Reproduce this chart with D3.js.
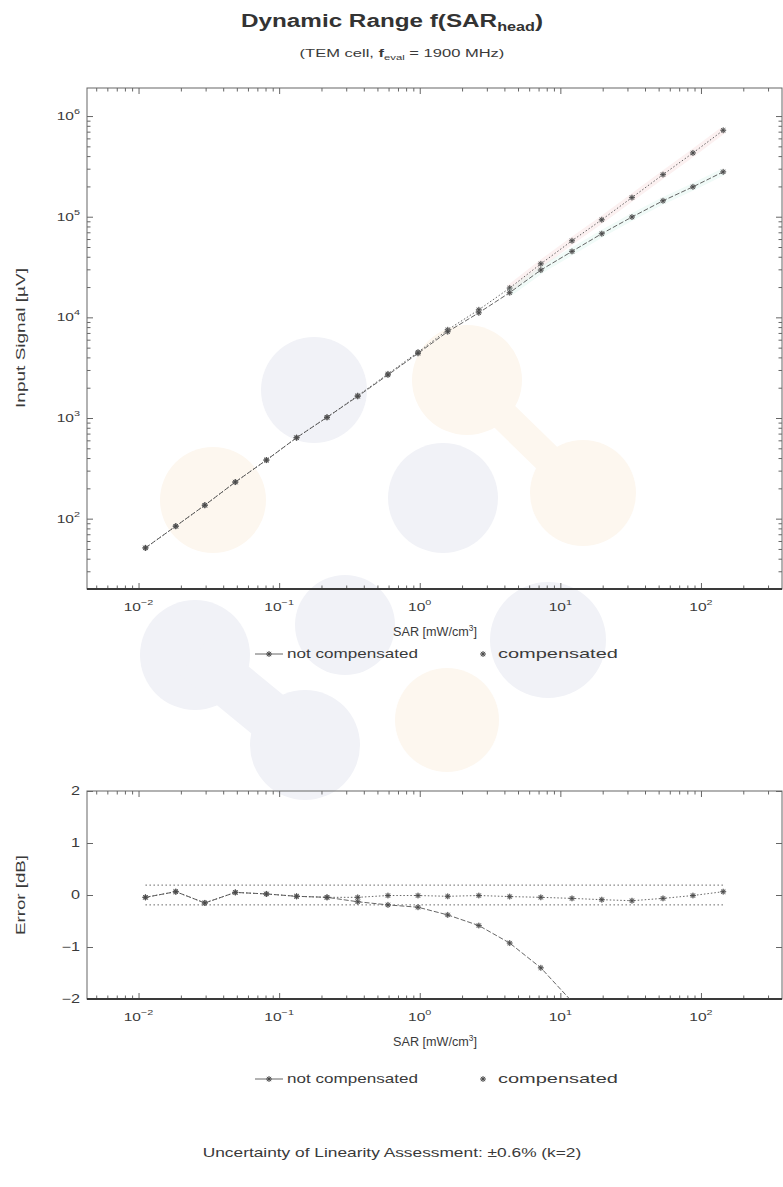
<!DOCTYPE html>
<html>
<head>
<meta charset="utf-8">
<script src="https://cdn.jsdelivr.net/npm/d3@7"></script>
<style>
  html, body { margin: 0; padding: 0; background: #fff; }
  svg { display: block; font-family: "Liberation Sans", Arial, sans-serif; }
  text { fill: #3a3a3a; }
</style>
</head>
<body>
<div id="chart"></div>
<script>
// SAR steps [mW/cm3]
const sarValues = [0.0112, 0.0184, 0.0296, 0.0488, 0.0812, 0.133, 0.219, 0.362, 0.594, 0.972,
                   1.58, 2.63, 4.36, 7.26, 12.1, 19.7, 32.3, 53.7, 87.7, 144];
// input signal [uV]
const signalNotCompensated = [51.2, 84.2, 136, 231, 382, 637, 1016, 1640, 2680, 4390,
                              7200, 11100, 17600, 29500, 45200, 67800, 99300, 144000, 198000, 279000];
const signalCompensated = [51.2, 84.2, 136, 231, 382, 637, 1016, 1667, 2742, 4510,
                           7520, 11890, 19540, 34000, 57700, 93300, 155000, 262000, 430000, 722000];
// linearity error [dB]
const errorNotCompensated = [-0.045, 0.064, -0.153, 0.05, 0.02, -0.025, -0.045, -0.13, -0.19, -0.235,
                             -0.383, -0.587, -0.924, -1.40, -2.05, -2.77, -3.87, -5.2, -6.74, -8.26];
const errorCompensated = [-0.045, 0.064, -0.153, 0.05, 0.02, -0.025, -0.045, -0.045, -0.01, -0.01,
                          -0.025, -0.01, -0.03, -0.045, -0.065, -0.09, -0.11, -0.065, -0.01, 0.064];
const toleranceBand = [-0.19, 0.19];
const xTickExponents = [-2, -1, 0, 1, 2];
const yTickExponents = [2, 3, 4, 5, 6];
const errorTicks = [-2, -1, 0, 1, 2];
const legendLabels = ['not compensated', 'compensated'];

const W = 783, H = 1187;
const frame = {left: 87, right: 782};
const topBox = {top: 88, bottom: 589};
const errBox = {top: 791, bottom: 999};

const svg = d3.select('#chart').append('svg').attr('width', W).attr('height', H);

// faint watermark of the certificate paper
const wm = svg.append('g').attr('class', 'watermark');
const wmBlue = '#f1f2f7', wmCream = '#fdf7ef';
[[314, 390, 53], [443, 498, 55], [345, 625, 50], [195, 655, 55], [305, 745, 55], [548, 640, 58]]
    .forEach(c => wm.append('circle').attr('cx', c[0]).attr('cy', c[1]).attr('r', c[2]).attr('fill', wmBlue));
wm.append('line').attr('x1', 195).attr('y1', 655).attr('x2', 305).attr('y2', 745)
    .attr('stroke', wmBlue).attr('stroke-width', 50);
[[213, 500, 53], [467, 380, 55], [583, 493, 53], [447, 720, 52]]
    .forEach(c => wm.append('circle').attr('cx', c[0]).attr('cy', c[1]).attr('r', c[2]).attr('fill', wmCream));
wm.append('line').attr('x1', 467).attr('y1', 380).attr('x2', 583).attr('y2', 493)
    .attr('stroke', wmCream).attr('stroke-width', 30);

const x = d3.scaleLog().domain([0.0043, 377]).range([frame.left, frame.right]);
const yTop = d3.scaleLog().domain([20, 1.9e6]).range([topBox.bottom, topBox.top]);
const yErr = d3.scaleLinear().domain([-2, 2]).range([errBox.bottom, errBox.top]);

const minorLog = scale => {
    const [a, b] = scale.domain();
    const out = [];
    for (let e = Math.floor(Math.log10(a)); e <= Math.ceil(Math.log10(b)); e++) {
        for (let k = 2; k <= 9; k++) {
            const v = k * Math.pow(10, e);
            if (v > a && v < b) out.push(v);
        }
    }
    return out;
};

// stretch a text horizontally (along its own baseline) to a given width
const stretch = (t, px, py, width, rot) => {
    const w = t.node().getBBox().width;
    const sx = width ? width / w : 1.35;
    t.attr('transform', `translate(${px},${py})${rot ? ' rotate(-90)' : ''} scale(${sx},1) translate(${-px},${-py})`);
    return t;
};

const powerLabel = (g, px, py, exp, anchor) => {
    const t = g.append('text').attr('x', px).attr('y', py)
        .attr('text-anchor', anchor).style('font-size', '11.5px');
    t.append('tspan').text('10');
    t.append('tspan').attr('dy', -6).style('font-size', '8px').text(exp < 0 ? '\u2212' + (-exp) : exp);
    return stretch(t, px, py, null);
};

const asterisk = r => {
    const d = r * Math.SQRT1_2;
    return `M${-r},0L${r},0M0,${-r}L0,${r}M${-d},${-d}L${d},${d}M${-d},${d}L${d},${-d}`;
};

const marker = (g, px, py) => {
    g.append('circle').attr('cx', px).attr('cy', py).attr('r', 2.6).attr('fill', '#8c8c8c').attr('opacity', 0.6);
    g.append('path').attr('transform', `translate(${px},${py})`).attr('d', asterisk(3))
        .attr('stroke', '#444').attr('stroke-width', 0.8).attr('fill', 'none');
};

const drawAxes = (box, yScale, yMajor, yMinor) => {
    const g = svg.append('g').attr('class', 'axes');
    const xMajor = xTickExponents.map(e => Math.pow(10, e));
    const xMinor = minorLog(x);
    const tick = (axis, tx, ty, values, size) => {
        g.append('g').attr('transform', `translate(${tx},${ty})`)
            .call(axis.tickValues(values).tickSize(size).tickFormat(''))
            .call(s => s.select('.domain').remove())
            .call(s => s.selectAll('line').attr('stroke', '#666'));
    };
    tick(d3.axisBottom(x), 0, box.bottom, xMajor, -6);
    tick(d3.axisBottom(x), 0, box.bottom, xMinor, -3.5);
    tick(d3.axisTop(x), 0, box.top, xMajor, -6);
    tick(d3.axisTop(x), 0, box.top, xMinor, -3.5);
    tick(d3.axisLeft(yScale), frame.left, 0, yMajor, -6);
    tick(d3.axisRight(yScale), frame.right, 0, yMajor, -6);
    if (yMinor.length) {
        tick(d3.axisLeft(yScale), frame.left, 0, yMinor, -3.5);
        tick(d3.axisRight(yScale), frame.right, 0, yMinor, -3.5);
    }
    g.append('rect').attr('x', frame.left).attr('y', box.top)
        .attr('width', frame.right - frame.left).attr('height', box.bottom - box.top)
        .attr('fill', 'none').attr('stroke', '#666').attr('stroke-width', 1);
    g.append('line').attr('x1', frame.left).attr('x2', frame.right)
        .attr('y1', box.bottom).attr('y2', box.bottom).attr('stroke', '#3a3a3a').attr('stroke-width', 2);
    xTickExponents.forEach(e => powerLabel(g, x(Math.pow(10, e)), box.bottom + 22, e, 'middle'));
    return g;
};

const drawSeries = (g, yScale, values, dash, tint) => {
    const pts = sarValues.map((s, i) => ({sar: s, value: values[i]}));
    const line = d3.line().x(d => x(d.sar)).y(d => yScale(d.value));
    if (tint) {
        g.append('path').attr('d', line(pts.slice(12))).attr('fill', 'none')
            .attr('stroke', tint).attr('stroke-width', 7).attr('opacity', 0.25);
    }
    g.append('path').attr('d', line(pts)).attr('fill', 'none')
        .attr('stroke', '#555').attr('stroke-width', 0.9).attr('stroke-dasharray', dash);
    pts.forEach(d => marker(g, x(d.sar), yScale(d.value)));
};

const drawLegend = y => {
    const g = svg.append('g').attr('class', 'legend');
    g.append('line').attr('x1', 255).attr('x2', 283).attr('y1', y).attr('y2', y)
        .attr('stroke', '#555').attr('stroke-width', 0.9);
    marker(g, 269, y);
    stretch(g.append('text').attr('x', 287).attr('y', y + 4).style('font-size', '12px')
        .text(legendLabels[0]), 287, y + 4, 131);
    marker(g, 483, y);
    stretch(g.append('text').attr('x', 498).attr('y', y + 4).style('font-size', '12px')
        .text(legendLabels[1]), 498, y + 4, 120);
};

const sarLabel = y => {
    const t = svg.append('text').attr('x', 435).attr('y', y).attr('text-anchor', 'middle').style('font-size', '13px');
    t.append('tspan').text('SAR [mW/cm');
    t.append('tspan').attr('dy', -5).style('font-size', '8.5px').text('3');
    t.append('tspan').attr('dy', 5).text(']');
    stretch(t, 435, y, 84);
};

// title
const title = svg.append('text').attr('x', 392).attr('y', 27).attr('text-anchor', 'middle')
    .style('font-size', '18px').style('font-weight', 'bold').style('fill', '#333');
title.append('tspan').text('Dynamic Range f(SAR');
title.append('tspan').attr('dy', 4).style('font-size', '12px').text('head');
title.append('tspan').attr('dy', -4).text(')');
stretch(title, 392, 27, 302);

const sub = svg.append('text').attr('x', 402).attr('y', 57).attr('text-anchor', 'middle').style('font-size', '11px');
sub.append('tspan').text('(TEM cell, ');
sub.append('tspan').style('font-weight', 'bold').text('f');
sub.append('tspan').attr('dy', 3).style('font-size', '7.5px').text('eval');
sub.append('tspan').attr('dy', -3).text(' = 1900 MHz)');
stretch(sub, 402, 57, 205);

// upper plot: input signal
const gTop = drawAxes(topBox, yTop, yTickExponents.map(e => Math.pow(10, e)), minorLog(yTop));
yTickExponents.forEach(e => powerLabel(gTop, 80, yTop(Math.pow(10, e)) + 4, e, 'end'));
const topSeries = svg.append('g');
drawSeries(topSeries, yTop, signalCompensated, '1.5,2', '#f3c9c9');
drawSeries(topSeries, yTop, signalNotCompensated, '5,2', '#c9eee2');
sarLabel(636);
stretch(svg.append('text').attr('x', 25).attr('y', 338).attr('text-anchor', 'middle')
    .style('font-size', '12.5px').text('Input Signal [\u00b5V]'), 25, 338, 140, true);
drawLegend(654);

// lower plot: linearity error
const gErr = drawAxes(errBox, yErr, errorTicks, []);
errorTicks.forEach(v => stretch(gErr.append('text').attr('x', 80).attr('y', yErr(v) + 4)
    .attr('text-anchor', 'end').style('font-size', '12px').text(v < 0 ? '\u2212' + (-v) : v), 80, yErr(v) + 4, null));
svg.append('clipPath').attr('id', 'err-clip').append('rect')
    .attr('x', frame.left).attr('y', errBox.top)
    .attr('width', frame.right - frame.left).attr('height', errBox.bottom - errBox.top);
const errSeries = svg.append('g').attr('clip-path', 'url(#err-clip)');
toleranceBand.forEach(v => errSeries.append('line')
    .attr('x1', x(sarValues[0])).attr('x2', x(sarValues[sarValues.length - 1]))
    .attr('y1', yErr(v)).attr('y2', yErr(v))
    .attr('stroke', '#666').attr('stroke-width', 1).attr('stroke-dasharray', '1.5,2.5'));
drawSeries(errSeries, yErr, errorNotCompensated, '5,2', null);
drawSeries(errSeries, yErr, errorCompensated, '1.5,2', null);
sarLabel(1046);
stretch(svg.append('text').attr('x', 25).attr('y', 895).attr('text-anchor', 'middle')
    .style('font-size', '12.5px').text('Error [dB]'), 25, 895, 80, true);
drawLegend(1079);

stretch(svg.append('text').attr('x', 392).attr('y', 1157).attr('text-anchor', 'middle')
    .style('font-size', '12px').text('Uncertainty of Linearity Assessment: \u00b10.6% (k=2)'), 392, 1157, 379);
</script>
</body>
</html>
